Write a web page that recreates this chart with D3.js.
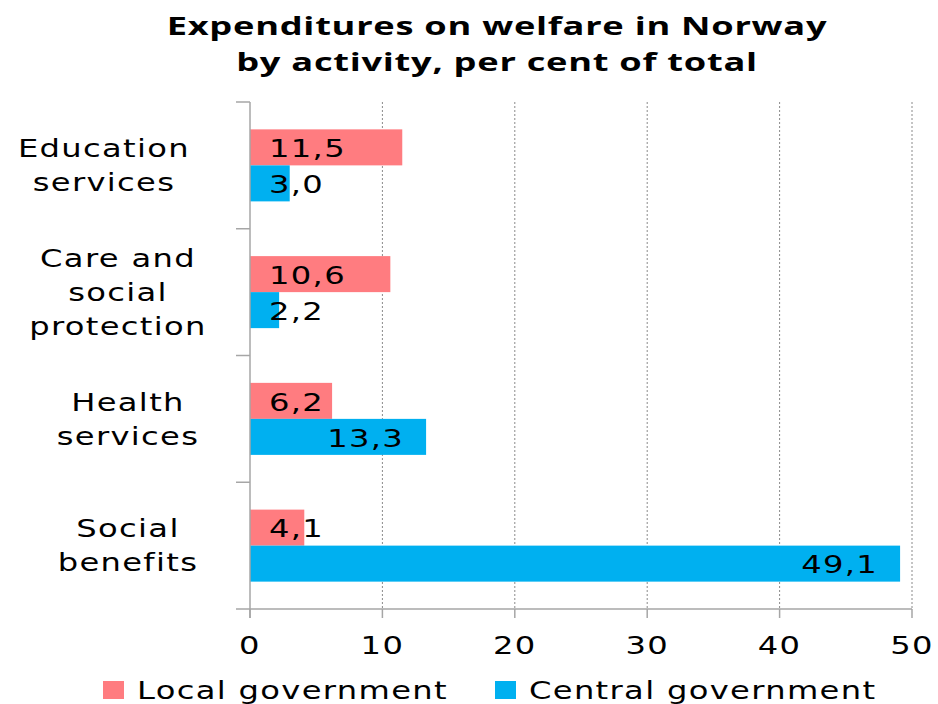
<!DOCTYPE html>
<html>
<head>
<meta charset="utf-8">
<script src="https://cdn.jsdelivr.net/npm/d3@7"></script>
<style>
  body { margin: 0; background: #fff; }
  text { font-family: "DejaVu Sans", sans-serif; fill: #000; }
</style>
</head>
<body>
<div id="chart"></div>
<script>
// Data
var categories = ["Education services", "Care and social protection", "Health services", "Social benefits"];
var categoryLines = [["Education", "services"], ["Care and", "social", "protection"], ["Health", "services"], ["Social", "benefits"]];
var seriesNames = ["Local government", "Central government"];
var localValues = [11.5, 10.6, 6.2, 4.1];
var centralValues = [3.0, 2.2, 13.3, 49.1];
var xTicks = [0, 10, 20, 30, 40, 50];
var titleLines = ["Expenditures on welfare in Norway", "by activity, per cent of total"];

var colors = ["#FF7C80", "#00B0F0"];

var width = 938, height = 704;
var margin = {top: 102, right: 26, bottom: 95, left: 250};

var svg = d3.select("#chart")
    .append("svg")
        .attr("width", width)
        .attr("height", height);

// stretched text helper (reference text is horizontally wide)
function wideText(parent, x, y, str, opts) {
    opts = opts || {};
    var g = parent.append("g")
        .attr("transform", "translate(" + x + "," + y + ") scale(" + (opts.sx || 1.34) + ",1)");
    return g.append("text")
        .attr("text-anchor", opts.anchor || "middle")
        .attr("dy", opts.dy || "0.36em")
        .style("font-size", (opts.size || 24) + "px")
        .style("font-weight", opts.weight || "normal")
        .style("letter-spacing", (opts.ls === undefined ? 1 : opts.ls) + "px")
        .style("font-family", opts.family || null)
        .text(str);
}

// Scales
var x = d3.scaleLinear()
    .domain([0, 50])
    .range([margin.left, width - margin.right]);

var y = d3.scaleBand()
    .domain(categories)
    .range([margin.top, height - margin.bottom])
    .padding(0);

var ySub = d3.scaleBand()
    .domain(seriesNames)
    .range([0, y.bandwidth()])
    .paddingOuter(0.76)
    .paddingInner(0);

// Gridlines
svg.append("g")
    .selectAll("line")
    .data(xTicks.filter(function(d) { return d > 0; }))
    .enter()
    .append("line")
        .attr("x1", function(d) { return x(d); })
        .attr("x2", function(d) { return x(d); })
        .attr("y1", margin.top)
        .attr("y2", height - margin.bottom)
        .style("stroke", "#8a8a8a")
        .style("stroke-width", 1)
        .style("stroke-dasharray", "2,2");

// Bars
var rows = categories.map(function(c, i) {
    return {cat: c, values: [
        {series: seriesNames[0], value: localValues[i], color: colors[0]},
        {series: seriesNames[1], value: centralValues[i], color: colors[1]}
    ]};
});

var groups = svg.selectAll(".cat")
    .data(rows)
    .enter()
    .append("g")
    .attr("class", "cat")
    .attr("transform", function(d) { return "translate(0," + y(d.cat) + ")"; });

groups.selectAll("rect")
    .data(function(d) { return d.values; })
    .enter()
    .append("rect")
        .attr("x", x(0))
        .attr("y", function(d) { return ySub(d.series); })
        .attr("width", function(d) { return x(d.value) - x(0); })
        .attr("height", ySub.bandwidth())
        .style("fill", function(d) { return d.color; });

// Data labels
groups.each(function(d) {
    var g = d3.select(this);
    d.values.forEach(function(v) {
        var cy = ySub(v.series) + ySub.bandwidth() / 2 + 1;
        var label = v.value.toFixed(1).replace(".", ",");
        if (v.value > 12) {
            wideText(g, x(v.value) - 22, cy, label, {anchor: "end"});
        } else {
            wideText(g, x(0) + 19, cy, label, {anchor: "start"});
        }
    });
});

// Axes
var axisColor = "#a6a6a6";
svg.append("line")
    .attr("x1", x(0)).attr("x2", x(0))
    .attr("y1", margin.top).attr("y2", height - margin.bottom + 9)
    .style("stroke", axisColor).style("stroke-width", 1.5);

svg.append("line")
    .attr("x1", x(0) - 14).attr("x2", x(50))
    .attr("y1", height - margin.bottom).attr("y2", height - margin.bottom)
    .style("stroke", axisColor).style("stroke-width", 1.5);

// category boundary ticks
var boundaries = categories.map(function(c) { return y(c); });
svg.append("g")
    .selectAll("line")
    .data(boundaries)
    .enter()
    .append("line")
        .attr("x1", x(0) - 14).attr("x2", x(0))
        .attr("y1", function(d) { return d; })
        .attr("y2", function(d) { return d; })
        .style("stroke", axisColor).style("stroke-width", 1.5);

// x ticks
svg.append("g")
    .selectAll("line")
    .data(xTicks)
    .enter()
    .append("line")
        .attr("x1", function(d) { return x(d); })
        .attr("x2", function(d) { return x(d); })
        .attr("y1", height - margin.bottom)
        .attr("y2", height - margin.bottom + 9)
        .style("stroke", axisColor).style("stroke-width", 1.5);

xTicks.forEach(function(t) {
    wideText(svg, x(t), 645, String(t), {});
});

// Category labels
categoryLines.forEach(function(lines, i) {
    var cy = y(categories[i]) + y.bandwidth() / 2;
    var cx = i === 0 ? 104 : (i === 1 ? 118 : 128);
    lines.forEach(function(line, j) {
        var ly = cy + (j - (lines.length - 1) / 2) * 34;
        wideText(svg, cx, ly, line, {});
    });
});

// Title
titleLines.forEach(function(line, i) {
    wideText(svg, 497, 26 + i * 36, line, {size: 25, weight: "bold", ls: 0.5, sx: 1.45, family: "'Open Sans', sans-serif"});
});

// Legend
var legendItems = [
    {name: seriesNames[0], color: colors[0], x: 103},
    {name: seriesNames[1], color: colors[1], x: 495}
];
legendItems.forEach(function(d) {
    svg.append("rect")
        .attr("x", d.x).attr("y", 681)
        .attr("width", 21).attr("height", 18)
        .style("fill", d.color);
    wideText(svg, d.x + 34, 690, d.name, {anchor: "start"});
});
</script>
</body>
</html>
